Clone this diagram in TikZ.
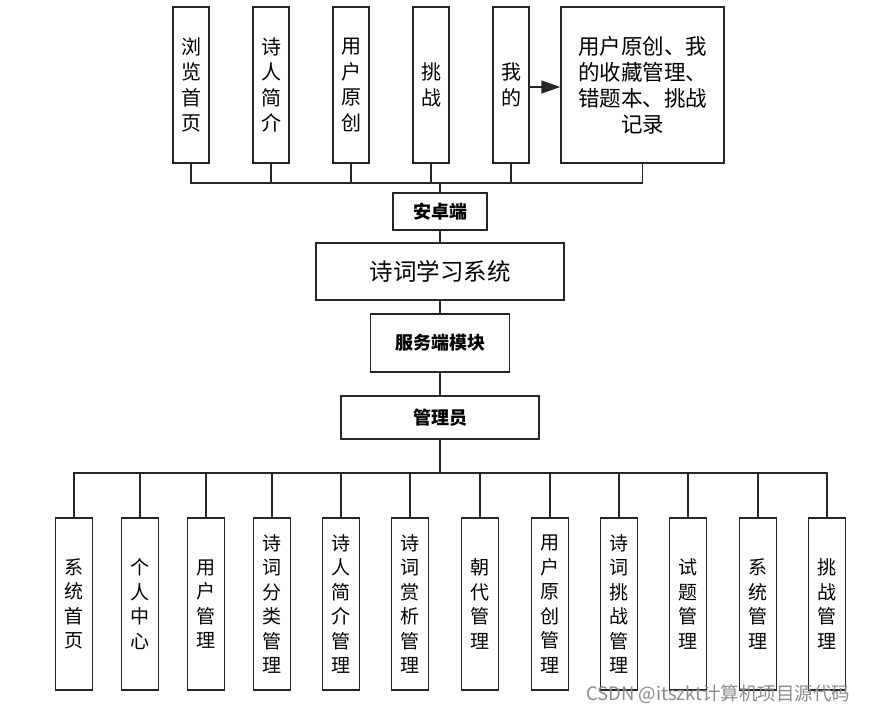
\documentclass[tikz,border=0pt]{standalone}
\usepackage{fontspec}
\setmainfont{Noto Sans CJK SC}
\usetikzlibrary{arrows.meta}

\begin{document}
\begin{tikzpicture}[
    x=1pt, y=-1pt,
    % all boxes share the same dark outline
    box/.style={rectangle, draw=black!85, line width=1.4pt, inner sep=0pt, align=center},
    topbox/.style={box, minimum width=36pt, minimum height=156pt, font=\fontsize{20}{25.5}\selectfont},
    modbox/.style={box, minimum width=37pt, minimum height=172pt, font=\fontsize{19}{24.5}\selectfont},
    midbox/.style={box, font=\fontsize{18}{22}\selectfont\bfseries},
    line/.style={draw=black!85, line width=1.4pt},
    arrow/.style={line, -{Triangle[length=19pt, width=13pt]}}
]
    \useasboundingbox (0,0) rectangle (870,714);

    % Android client functions
    \node[topbox] (browse) at (191,85) {浏\\览\\首\\页};
    \node[topbox] (poet) at (271,85) {诗\\人\\简\\介};
    \node[topbox] (create) at (351,85) {用\\户\\原\\创};
    \node[topbox] (chal) at (431,85) {挑\\战};
    \node[topbox] (mine) at (511,85) {我\\的};
    \node[box, minimum width=163pt, minimum height=156pt, font=\fontsize{21.5}{26}\selectfont] (mydetail) at (642.5,85)
        {用户原创、我\\的收藏管理、\\错题本、挑战\\记录};

    % system chain
    \node[midbox, minimum width=94pt, minimum height=37pt] (android) at (440,211.5) {安卓端};
    \node[box, minimum width=248pt, minimum height=57pt, font=\fontsize{23.5}{28}\selectfont] (system) at (440,271.5) {诗词学习系统};
    \node[midbox, minimum width=139pt, minimum height=58pt] (server) at (440,343) {服务端模块};
    \node[midbox, minimum width=198pt, minimum height=43pt] (admin) at (440,417.5) {管理员};

    % admin modules
    \node[modbox] (m1) at (74,604) {系\\统\\首\\页};
    \node[modbox] (m2) at (140,604) {个\\人\\中\\心};
    \node[modbox] (m3) at (206,604) {用\\户\\管\\理};
    \node[modbox] (m4) at (272,604) {诗\\词\\分\\类\\管\\理};
    \node[modbox] (m5) at (341,604) {诗\\人\\简\\介\\管\\理};
    \node[modbox] (m6) at (410,604) {诗\\词\\赏\\析\\管\\理};
    \node[modbox] (m7) at (480,604) {朝\\代\\管\\理};
    \node[modbox] (m8) at (550,604) {用\\户\\原\\创\\管\\理};
    \node[modbox] (m9) at (619,604) {诗\\词\\挑\\战\\管\\理};
    \node[modbox] (m10) at (688,604) {试\\题\\管\\理};
    \node[modbox] (m11) at (758,604) {系\\统\\管\\理};
    \node[modbox] (m12) at (827,604) {挑\\战\\管\\理};

    \coordinate (topbus) at (440,183);
    \coordinate (botbus) at (440,473);

    \draw[line] (browse.south) |- (topbus);
    \draw[line] (poet.south) |- (topbus);
    \draw[line] (create.south) |- (topbus);
    \draw[line] (chal.south) |- (topbus);
    \draw[line] (mine.south) |- (topbus);
    \draw[line] (mydetail.south) |- (topbus);
    \draw[line] (topbus) -- (android.north);

    \draw[arrow] ([yshift=-2pt]mine.east) -- ([yshift=-2pt]mydetail.west);

    \draw[line] (android) -- (system);
    \draw[line] (system) -- (server);
    \draw[line] (server) -- (admin);
    \draw[line] (admin.south) -- (botbus);

    \draw[line] (botbus) -| (m1.north);
    \draw[line] (botbus) -| (m2.north);
    \draw[line] (botbus) -| (m3.north);
    \draw[line] (botbus) -| (m4.north);
    \draw[line] (botbus) -| (m5.north);
    \draw[line] (botbus) -| (m6.north);
    \draw[line] (botbus) -| (m7.north);
    \draw[line] (botbus) -| (m8.north);
    \draw[line] (botbus) -| (m9.north);
    \draw[line] (botbus) -| (m10.north);
    \draw[line] (botbus) -| (m11.north);
    \draw[line] (botbus) -| (m12.north);

    \node[text=black!45, font=\fontsize{18.5}{20}\selectfont, anchor=east] (mark) at (854,694) {CSDN @itszkt计算机项目源代码};
\end{tikzpicture}
\end{document}
